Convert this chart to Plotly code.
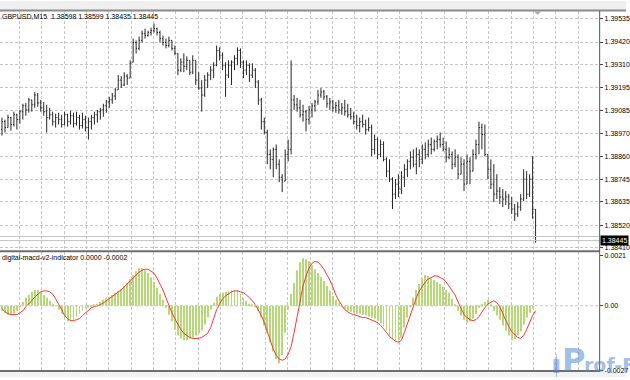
import plotly.graph_objects as go

# ---------------- data (GBPUSD, M15) ----------------
opens = [
    1.38990, 1.39029, 1.39000, 1.39049, 1.39015, 1.39063, 1.39039, 1.39078, 1.39107, 1.39087,
    1.39136, 1.39112, 1.39160, 1.39121, 1.39097, 1.39078, 1.39049, 1.39063, 1.39029, 1.39049,
    1.39039, 1.39015, 1.39063, 1.39029, 1.39058, 1.39019, 1.39049, 1.39010, 1.39039, 1.39000,
    1.39029, 1.39049, 1.39063, 1.39078, 1.39087, 1.39107, 1.39126, 1.39136, 1.39155, 1.39185,
    1.39233, 1.39209, 1.39253, 1.39243, 1.39321, 1.39418, 1.39389, 1.39428, 1.39462, 1.39452,
    1.39467, 1.39476, 1.39486, 1.39467, 1.39437, 1.39418, 1.39403, 1.39428, 1.39389, 1.39364,
    1.39282, 1.39321, 1.39301, 1.39330, 1.39272, 1.39330, 1.39233, 1.39194, 1.39160, 1.39233,
    1.39258, 1.39282, 1.39306, 1.39379, 1.39355, 1.39306, 1.39258, 1.39306, 1.39321, 1.39340,
    1.39379, 1.39321, 1.39282, 1.39306, 1.39258, 1.39282, 1.39224, 1.39136, 1.39029, 1.38976,
    1.38868, 1.38844, 1.38893, 1.38820, 1.38756, 1.38737, 1.38868, 1.38893, 1.39136, 1.39112,
    1.39097, 1.39063, 1.39078, 1.39039, 1.39087, 1.39107, 1.39126, 1.39160, 1.39175, 1.39151,
    1.39117, 1.39126, 1.39097, 1.39107, 1.39087, 1.39097, 1.39078, 1.39063, 1.39053, 1.39029,
    1.39010, 1.39029, 1.39015, 1.38990, 1.39000, 1.38893, 1.38941, 1.38868, 1.38917, 1.38844,
    1.38786, 1.38747, 1.38673, 1.38722, 1.38698, 1.38756, 1.38795, 1.38834, 1.38854, 1.38820,
    1.38868, 1.38844, 1.38893, 1.38868, 1.38917, 1.38893, 1.38932, 1.38941, 1.38917, 1.38893,
    1.38854, 1.38868, 1.38820, 1.38854, 1.38771, 1.38820, 1.38722, 1.38834, 1.38786, 1.38868,
    1.38917, 1.39000, 1.38966, 1.38868, 1.38795, 1.38722, 1.38673, 1.38688, 1.38659, 1.38649,
    1.38659, 1.38625, 1.38600, 1.38576, 1.38610, 1.38649, 1.38747, 1.38673, 1.38747, 1.38598,
]
highs = [
    1.39049, 1.39039, 1.39063, 1.39053, 1.39078, 1.39068, 1.39087, 1.39117, 1.39121, 1.39146,
    1.39136, 1.39175, 1.39170, 1.39136, 1.39126, 1.39112, 1.39097, 1.39078, 1.39068, 1.39073,
    1.39063, 1.39078, 1.39068, 1.39083, 1.39073, 1.39078, 1.39063, 1.39073, 1.39058, 1.39049,
    1.39063, 1.39078, 1.39087, 1.39097, 1.39117, 1.39136, 1.39151, 1.39170, 1.39194, 1.39258,
    1.39253, 1.39272, 1.39262, 1.39330, 1.39437, 1.39428, 1.39447, 1.39476, 1.39486, 1.39476,
    1.39491, 1.39510, 1.39491, 1.39476, 1.39452, 1.39437, 1.39447, 1.39428, 1.39403, 1.39364,
    1.39340, 1.39364, 1.39350, 1.39330, 1.39355, 1.39330, 1.39272, 1.39233, 1.39258, 1.39272,
    1.39301, 1.39321, 1.39403, 1.39394, 1.39369, 1.39321, 1.39330, 1.39330, 1.39355, 1.39394,
    1.39389, 1.39330, 1.39330, 1.39316, 1.39316, 1.39292, 1.39233, 1.39146, 1.39049, 1.38990,
    1.38893, 1.38902, 1.38917, 1.38844, 1.38771, 1.38893, 1.38941, 1.39330, 1.39160, 1.39146,
    1.39136, 1.39112, 1.39087, 1.39107, 1.39121, 1.39136, 1.39185, 1.39194, 1.39185, 1.39160,
    1.39146, 1.39136, 1.39126, 1.39136, 1.39121, 1.39136, 1.39117, 1.39097, 1.39078, 1.39063,
    1.39049, 1.39063, 1.39039, 1.39049, 1.39015, 1.38966, 1.38951, 1.38941, 1.38932, 1.38854,
    1.38844, 1.38756, 1.38747, 1.38771, 1.38786, 1.38820, 1.38844, 1.38883, 1.38893, 1.38902,
    1.38893, 1.38917, 1.38927, 1.38941, 1.38951, 1.38941, 1.38961, 1.38976, 1.38951, 1.38932,
    1.38902, 1.38883, 1.38893, 1.38868, 1.38854, 1.38844, 1.38868, 1.38854, 1.38893, 1.38941,
    1.39029, 1.39019, 1.39015, 1.38868, 1.38844, 1.38820, 1.38771, 1.38708, 1.38698, 1.38688,
    1.38673, 1.38659, 1.38625, 1.38634, 1.38673, 1.38795, 1.38786, 1.38771, 1.38859, 1.38599,
]
lows = [
    1.38961, 1.38976, 1.39000, 1.38985, 1.39005, 1.38990, 1.39019, 1.39039, 1.39058, 1.39073,
    1.39078, 1.39097, 1.39102, 1.39078, 1.39058, 1.38976, 1.39039, 1.39010, 1.39000, 1.39015,
    1.39000, 1.39010, 1.39005, 1.39015, 1.39000, 1.39010, 1.38990, 1.38995, 1.38981, 1.38941,
    1.38990, 1.39015, 1.39024, 1.39039, 1.39053, 1.39073, 1.39097, 1.39117, 1.39136, 1.39185,
    1.39194, 1.39204, 1.39209, 1.39243, 1.39321, 1.39364, 1.39379, 1.39418, 1.39437, 1.39447,
    1.39452, 1.39467, 1.39452, 1.39418, 1.39403, 1.39389, 1.39394, 1.39379, 1.39355, 1.39258,
    1.39272, 1.39272, 1.39282, 1.39258, 1.39262, 1.39209, 1.39185, 1.39078, 1.39151, 1.39194,
    1.39233, 1.39243, 1.39301, 1.39330, 1.39282, 1.39151, 1.39243, 1.39209, 1.39282, 1.39306,
    1.39292, 1.39243, 1.39258, 1.39224, 1.39243, 1.39194, 1.39112, 1.38990, 1.38966, 1.38820,
    1.38795, 1.38756, 1.38795, 1.38732, 1.38683, 1.38737, 1.38834, 1.38868, 1.39087, 1.39078,
    1.39049, 1.39029, 1.38981, 1.39015, 1.39049, 1.39078, 1.39112, 1.39146, 1.39136, 1.39097,
    1.39087, 1.39078, 1.39073, 1.39068, 1.39063, 1.39058, 1.39049, 1.39039, 1.39015, 1.38990,
    1.38976, 1.39000, 1.38966, 1.38981, 1.38859, 1.38868, 1.38844, 1.38854, 1.38834, 1.38756,
    1.38732, 1.38600, 1.38649, 1.38659, 1.38673, 1.38708, 1.38756, 1.38795, 1.38805, 1.38771,
    1.38805, 1.38820, 1.38844, 1.38854, 1.38868, 1.38883, 1.38893, 1.38902, 1.38883, 1.38829,
    1.38844, 1.38795, 1.38805, 1.38747, 1.38771, 1.38688, 1.38722, 1.38722, 1.38786, 1.38844,
    1.38868, 1.38893, 1.38859, 1.38747, 1.38698, 1.38634, 1.38649, 1.38625, 1.38610, 1.38620,
    1.38600, 1.38576, 1.38542, 1.38561, 1.38591, 1.38639, 1.38649, 1.38659, 1.38552, 1.38435,
]
closes = [
    1.39029, 1.39000, 1.39049, 1.39015, 1.39063, 1.39039, 1.39078, 1.39107, 1.39087, 1.39136,
    1.39112, 1.39160, 1.39121, 1.39097, 1.39078, 1.39049, 1.39063, 1.39029, 1.39049, 1.39039,
    1.39015, 1.39063, 1.39029, 1.39058, 1.39019, 1.39049, 1.39010, 1.39039, 1.39000, 1.39029,
    1.39049, 1.39063, 1.39078, 1.39087, 1.39107, 1.39126, 1.39136, 1.39155, 1.39185, 1.39233,
    1.39209, 1.39253, 1.39243, 1.39316, 1.39418, 1.39389, 1.39428, 1.39462, 1.39452, 1.39467,
    1.39476, 1.39486, 1.39467, 1.39437, 1.39418, 1.39403, 1.39428, 1.39389, 1.39364, 1.39282,
    1.39321, 1.39301, 1.39330, 1.39272, 1.39330, 1.39233, 1.39194, 1.39160, 1.39233, 1.39258,
    1.39282, 1.39306, 1.39379, 1.39355, 1.39306, 1.39258, 1.39306, 1.39321, 1.39340, 1.39379,
    1.39321, 1.39282, 1.39306, 1.39258, 1.39282, 1.39224, 1.39136, 1.39029, 1.38976, 1.38868,
    1.38844, 1.38893, 1.38820, 1.38756, 1.38737, 1.38868, 1.38893, 1.39136, 1.39112, 1.39097,
    1.39063, 1.39078, 1.39039, 1.39087, 1.39107, 1.39126, 1.39160, 1.39175, 1.39151, 1.39117,
    1.39126, 1.39097, 1.39107, 1.39087, 1.39097, 1.39078, 1.39063, 1.39053, 1.39029, 1.39010,
    1.39029, 1.39015, 1.38990, 1.39000, 1.38893, 1.38941, 1.38868, 1.38917, 1.38844, 1.38786,
    1.38747, 1.38673, 1.38722, 1.38698, 1.38756, 1.38795, 1.38834, 1.38854, 1.38820, 1.38868,
    1.38844, 1.38893, 1.38868, 1.38917, 1.38893, 1.38932, 1.38941, 1.38917, 1.38893, 1.38854,
    1.38868, 1.38820, 1.38854, 1.38771, 1.38820, 1.38722, 1.38834, 1.38786, 1.38868, 1.38917,
    1.39000, 1.38966, 1.38868, 1.38795, 1.38722, 1.38673, 1.38688, 1.38659, 1.38649, 1.38659,
    1.38625, 1.38600, 1.38576, 1.38610, 1.38649, 1.38747, 1.38673, 1.38747, 1.38598, 1.38445,
]
macd_hist = [
    -0.00021, -0.00029, -0.00037, -0.00037, -0.00033, -0.00021, -0.00004, 0.00016, 0.00033, 0.00045,
    0.00058, 0.00066, 0.00066, 0.00058, 0.00045, 0.00033, 0.00021, 0.00008, 0.00000, -0.00016,
    -0.00033, -0.00049, -0.00066, -0.00062, -0.00058, -0.00045, -0.00033, -0.00021, -0.00012, -0.00008,
    -0.00004, 0.00004, 0.00008, 0.00016, 0.00025, 0.00033, 0.00037, 0.00045, 0.00054, 0.00062,
    0.00070, 0.00082, 0.00095, 0.00111, 0.00128, 0.00144, 0.00157, 0.00157, 0.00148, 0.00136,
    0.00119, 0.00099, 0.00074, 0.00049, 0.00025, -0.00008, -0.00037, -0.00066, -0.00099, -0.00124,
    -0.00136, -0.00144, -0.00144, -0.00136, -0.00132, -0.00124, -0.00115, -0.00103, -0.00078, -0.00049,
    -0.00016, 0.00012, 0.00037, 0.00049, 0.00054, 0.00058, 0.00062, 0.00066, 0.00066, 0.00062,
    0.00049, 0.00033, 0.00021, 0.00008, 0.00004, -0.00004, -0.00021, -0.00049, -0.00082, -0.00115,
    -0.00152, -0.00190, -0.00222, -0.00239, -0.00206, -0.00111, -0.00016, 0.00049, 0.00095, 0.00148,
    0.00181, 0.00198, 0.00194, 0.00185, 0.00169, 0.00152, 0.00136, 0.00119, 0.00103, 0.00082,
    0.00062, 0.00041, 0.00025, 0.00012, -0.00004, -0.00012, -0.00021, -0.00025, -0.00029, -0.00033,
    -0.00033, -0.00037, -0.00041, -0.00045, -0.00049, -0.00054, -0.00062, -0.00074, -0.00087, -0.00103,
    -0.00124, -0.00140, -0.00148, -0.00148, -0.00132, -0.00091, -0.00049, -0.00004, 0.00033, 0.00066,
    0.00091, 0.00115, 0.00128, 0.00124, 0.00115, 0.00107, 0.00099, 0.00091, 0.00078, 0.00066,
    0.00054, 0.00029, 0.00004, -0.00021, -0.00041, -0.00058, -0.00070, -0.00066, -0.00054, -0.00033,
    -0.00008, 0.00008, 0.00016, 0.00025, 0.00004, -0.00021, -0.00041, -0.00058, -0.00082, -0.00103,
    -0.00124, -0.00144, -0.00140, -0.00124, -0.00107, -0.00078, -0.00049, -0.00029, -0.00012, 0.00000,
]
macd_signal = [
    -0.00012, -0.00025, -0.00033, -0.00037, -0.00037, -0.00037, -0.00029, -0.00021, -0.00004, 0.00008,
    0.00021, 0.00037, 0.00049, 0.00058, 0.00062, 0.00062, 0.00058, 0.00049, 0.00029, 0.00008,
    -0.00016, -0.00041, -0.00054, -0.00062, -0.00062, -0.00058, -0.00054, -0.00041, -0.00029, -0.00016,
    -0.00008, -0.00004, 0.00000, 0.00004, 0.00012, 0.00021, 0.00029, 0.00037, 0.00045, 0.00054,
    0.00066, 0.00078, 0.00091, 0.00103, 0.00115, 0.00128, 0.00140, 0.00148, 0.00152, 0.00152,
    0.00144, 0.00136, 0.00115, 0.00091, 0.00066, 0.00033, 0.00000, -0.00029, -0.00054, -0.00078,
    -0.00099, -0.00115, -0.00124, -0.00132, -0.00136, -0.00136, -0.00136, -0.00132, -0.00124, -0.00115,
    -0.00091, -0.00049, -0.00016, 0.00008, 0.00029, 0.00041, 0.00049, 0.00058, 0.00062, 0.00062,
    0.00058, 0.00054, 0.00045, 0.00033, 0.00021, 0.00004, -0.00016, -0.00041, -0.00070, -0.00107,
    -0.00148, -0.00181, -0.00206, -0.00222, -0.00227, -0.00222, -0.00202, -0.00169, -0.00111, -0.00041,
    0.00029, 0.00082, 0.00124, 0.00157, 0.00177, 0.00185, 0.00181, 0.00169, 0.00152, 0.00132,
    0.00107, 0.00078, 0.00045, 0.00021, 0.00000, -0.00016, -0.00025, -0.00033, -0.00037, -0.00041,
    -0.00045, -0.00049, -0.00049, -0.00054, -0.00058, -0.00062, -0.00070, -0.00082, -0.00095, -0.00111,
    -0.00128, -0.00140, -0.00148, -0.00152, -0.00144, -0.00111, -0.00074, -0.00033, 0.00004, 0.00033,
    0.00062, 0.00082, 0.00099, 0.00111, 0.00119, 0.00124, 0.00124, 0.00119, 0.00111, 0.00099,
    0.00082, 0.00066, 0.00045, 0.00016, -0.00012, -0.00037, -0.00049, -0.00058, -0.00062, -0.00058,
    -0.00045, -0.00025, -0.00008, 0.00008, 0.00016, 0.00021, 0.00012, -0.00004, -0.00033, -0.00062,
    -0.00087, -0.00107, -0.00119, -0.00132, -0.00136, -0.00124, -0.00099, -0.00070, -0.00041, -0.00021,
]
price_ticks = [1.39535, 1.39420, 1.39310, 1.39195, 1.39085, 1.38970,
               1.38860, 1.38745, 1.38635, 1.38520, 1.38410]
macd_ticks = [0.0021, 0.0, -0.0027]
macd_tick_text = ["0.0021", "0.00", "-0.0027"]
BID = 1.38445
ASK = 1.38465
header = "GBPUSD,M15\u00a0\u00a01.38598 1.38599 1.38435 1.38445"
ind_label = "digital-macd-v2-indicator 0.0000 -0.0002"

# ---------------- figure ----------------
W, H = 630, 380


def fx(px):
    return px / W


def fy(px):
    return 1 - px / H


bars = list(range(len(closes)))
x_range = [-2 / 3, 601 / 3]
FONT = "Liberation Sans"
GRID = "#c6c6c6"
BAR_COL = "#262626"

fig = go.Figure()
fig.add_trace(go.Ohlc(
    x=bars, open=opens, high=highs, low=lows, close=closes,
    increasing=dict(line=dict(color=BAR_COL, width=1)),
    decreasing=dict(line=dict(color=BAR_COL, width=1)),
    tickwidth=0.34, xaxis="x", yaxis="y", hoverinfo="skip"))
fig.add_trace(go.Bar(
    x=bars, y=macd_hist, width=0.3, marker=dict(color="#b4d976", line=dict(width=0)),
    xaxis="x2", yaxis="y2", hoverinfo="skip"))
fig.add_trace(go.Scatter(
    x=bars, y=macd_signal, mode="lines", line=dict(color="#ff3434", width=1),
    xaxis="x2", yaxis="y2", hoverinfo="skip"))

xcommon = dict(range=x_range, domain=[0, fx(603)], showticklabels=False,
               showgrid=True, gridcolor=GRID, griddash="3px,2px", gridwidth=1,
               tick0=(19.5 - 2) / 3, dtick=7.5, zeroline=False, showline=False,
               ticks="", fixedrange=True)

fig.update_layout(
    width=W, height=H, margin=dict(l=0, r=0, t=0, b=0),
    paper_bgcolor="white", plot_bgcolor="white", showlegend=False,
    xaxis=dict(**xcommon, anchor="y", rangeslider=dict(visible=False)),
    xaxis2=dict(**xcommon, anchor="y2"),
    yaxis=dict(domain=[fy(252), fy(10)], range=[1.38397, 1.39573], side="right",
               anchor="x", tickvals=price_ticks,
               ticktext=[f"{v:.5f}" for v in price_ticks],
               showgrid=True, gridcolor=GRID, griddash="3px,2px", zeroline=False,
               ticks="outside", ticklen=3, tickcolor="#444",
               tickfont=dict(family=FONT, size=7, color="#000"),
               showline=False, fixedrange=True),
    yaxis2=dict(domain=[fy(374), fy(254)], range=[-0.00272, 0.002225], side="right",
                anchor="x2", tickvals=macd_ticks, ticktext=macd_tick_text,
                showgrid=False, zeroline=False, ticks="outside", ticklen=3,
                tickcolor="#444", tickfont=dict(family=FONT, size=7, color="#000"),
                showline=False, fixedrange=True),
)

shapes = [
    # top strip and frame
    dict(type="rect", xref="paper", yref="paper", x0=0, x1=1, y0=fy(9), y1=1,
         fillcolor="#efefef", line=dict(width=0), layer="below"),
    dict(type="line", xref="paper", yref="paper", x0=0, x1=1, y0=fy(9.5), y1=fy(9.5),
         line=dict(color="#8c8c8c", width=2)),
    # bid / ask lines
    dict(type="line", xref="x domain", yref="y", x0=0, x1=1, y0=BID, y1=BID,
         line=dict(color="#c4c4c4", width=1)),
    dict(type="line", xref="x domain", yref="y", x0=0, x1=1, y0=ASK, y1=ASK,
         line=dict(color="#c4c4c4", width=1)),
    # panel separator and bottom border
    dict(type="line", xref="paper", yref="paper", x0=0, x1=fx(603.5), y0=fy(253), y1=fy(253),
         line=dict(color="#6e6e6e", width=2)),
    dict(type="line", xref="paper", yref="paper", x0=0, x1=fx(603.5), y0=fy(374), y1=fy(374),
         line=dict(color="#6e6e6e", width=2)),
    dict(type="rect", xref="paper", yref="paper", x0=0, x1=1, y0=0, y1=fy(375),
         fillcolor="#f2f2f2", line=dict(width=0), layer="below"),
    # right price-scale line
    dict(type="line", xref="paper", yref="paper", x0=fx(603.5), x1=fx(603.5), y0=fy(375), y1=fy(10),
         line=dict(color="#555555", width=1)),
    # zero level of the indicator
    dict(type="line", xref="x2 domain", yref="y2", x0=0, x1=1, y0=0, y1=0,
         line=dict(color=GRID, width=1, dash="3px,2px")),
    # chart-shift marker
    dict(type="path", xref="paper", yref="paper",
         path=f"M {fx(537.5)} {fy(10.5)} L {fx(544.5)} {fy(10.5)} L {fx(541)} {fy(14)} Z",
         fillcolor="#a8a8a8", line=dict(width=0)),
    # watermark candle
    dict(type="rect", xref="paper", yref="paper", x0=fx(557), x1=fx(563), y0=fy(376), y1=fy(362),
         fillcolor="rgba(80,130,200,0.5)", line=dict(width=0)),
    dict(type="line", xref="paper", yref="paper", x0=fx(560), x1=fx(560), y0=fy(380), y1=fy(357),
         line=dict(color="rgba(80,130,200,0.5)", width=1)),
]
fig.update_layout(shapes=shapes)

annotations = [
    dict(text=header, xref="paper", yref="paper", x=fx(0), y=fy(15.5), xanchor="left",
         yanchor="middle", showarrow=False, font=dict(family=FONT, size=7, color="#000")),
    dict(text=ind_label, xref="paper", yref="paper", x=fx(0), y=fy(259.5), xanchor="left",
         yanchor="middle", showarrow=False, font=dict(family=FONT, size=7, color="#000")),
    dict(text=f"{BID:.5f}", xref="paper", yref="y", x=fx(604), y=BID, xanchor="left",
         yanchor="middle", showarrow=False, bgcolor="#000", borderpad=1,
         font=dict(family=FONT, size=7, color="#fff")),
    dict(text="<b>P</b>", xref="paper", yref="paper", x=fx(564), y=fy(342), xanchor="left",
         yanchor="top", showarrow=False,
         font=dict(family="DejaVu Sans", size=32, color="rgba(80,135,205,0.55)")),
    dict(text="<b>rof-F</b>", xref="paper", yref="paper", x=fx(586), y=fy(355), xanchor="left",
         yanchor="top", showarrow=False,
         font=dict(family="DejaVu Sans", size=19, color="rgba(80,135,205,0.55)")),
]
fig.update_layout(annotations=annotations)

fig.write_html("out.html")
